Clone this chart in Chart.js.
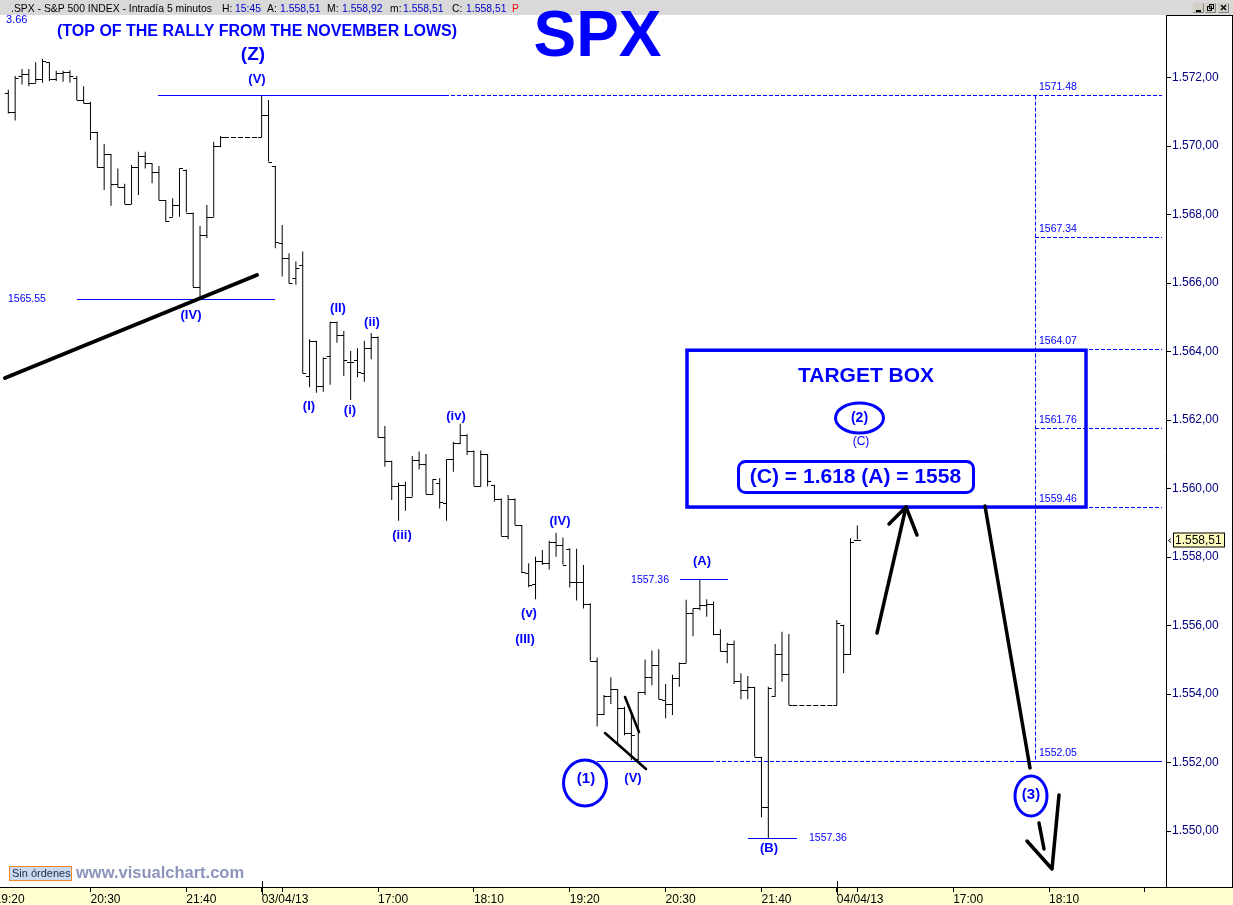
<!DOCTYPE html>
<html>
<head>
<meta charset="utf-8">
<title>SPX 5 minutos</title>
<script src="https://cdn.jsdelivr.net/npm/chart.js@4.4.1/dist/chart.umd.min.js"></script>
<style>
html,body{margin:0;padding:0;background:#fff;overflow:hidden;}
canvas{display:block;}
</style>
</head>
<body>
<canvas id="spx" width="1233" height="905"></canvas>
<script>
// Slot of each bar on the 5-minute time axis (missing slots = market closed)
const barSlot = [
  0,1,2,3,4,5,6,7,8,9,10,11,12,13,14,15,16,17,18,19,20,21,22,23,24,25,26,27,28,29,30,31,
  37,38,39,40,41,42,43,44,45,46,47,48,49,50,51,52,53,54,55,56,57,58,59,60,61,62,63,64,65,66,67,68,69,70,
  71,72,73,74,75,76,77,78,79,80,81,82,83,84,85,86,87,88,89,90,91,92,93,94,95,96,97,98,99,100,
  101,102,103,104,105,106,107,108,109,110,111,112,113,114,
  121,122,123,124
];
const openP = [
  1571.55,1571.00,1572.05,1572.10,1571.85,1571.95,1572.45,1571.95,1572.15,1572.18,1572.00,1571.35,1571.27,1570.42,1569.38,1569.77,
  1568.90,1568.80,1568.31,1569.40,1569.71,1569.50,1569.25,1568.43,1567.94,1568.28,1569.30,1568.06,1565.88,1567.41,1567.94,1570.01,
  1570.26,1570.91,1569.42,1567.16,1566.73,1566.14,1566.53,1563.29,1564.32,1563.01,1563.87,1564.86,1564.49,1563.71,1563.76,1563.37,
  1564.10,1564.44,1561.50,1560.81,1560.08,1560.11,1559.76,1560.84,1560.72,1559.84,1560.17,1559.57,1560.85,1561.32,1561.57,1561.11,
  1560.08,1561.01,1560.11,1559.71,1558.62,1559.71,1558.94,1557.54,1557.20,1557.89,1557.82,1558.45,1558.35,1558.24,1557.28,1557.28,
  1556.63,1554.97,1553.42,1553.95,1554.14,1553.58,1552.85,1552.10,1554.05,1554.51,1554.85,1553.83,1553.71,1554.46,1554.90,1556.36,
  1556.50,1556.60,1556.63,1555.75,1555.27,1555.47,1554.39,1554.12,1554.21,1552.17,1550.69,1553.95,1555.17,1554.59,
  1553.68,1556.02,1555.16,1558.51
];
const highP = [
  1571.65,1572.05,1572.25,1572.25,1572.45,1572.55,1572.45,1572.20,1572.20,1572.22,1572.05,1571.75,1571.30,1570.42,1570.06,1569.77,
  1569.35,1568.90,1569.45,1569.84,1569.84,1569.50,1569.42,1568.43,1568.48,1569.35,1569.32,1568.06,1567.67,1568.28,1570.13,1570.30,
  1571.48,1571.35,1569.42,1567.70,1566.87,1566.63,1566.92,1564.36,1564.32,1563.83,1564.87,1564.87,1564.60,1564.02,1564.10,1564.32,
  1564.54,1564.44,1561.83,1560.81,1560.17,1560.20,1560.95,1561.08,1561.01,1560.27,1560.30,1560.85,1561.37,1561.89,1561.59,1561.11,
  1561.11,1561.01,1560.11,1559.71,1559.81,1559.71,1558.94,1557.82,1558.01,1558.21,1558.48,1558.71,1558.57,1558.26,1558.24,1557.77,
  1556.65,1555.07,1553.97,1554.49,1554.14,1553.63,1553.48,1554.07,1555.01,1555.27,1555.31,1554.29,1554.56,1554.92,1556.75,1556.50,
  1557.36,1556.77,1556.70,1555.89,1555.50,1555.56,1554.61,1554.53,1554.21,1552.17,1554.21,1555.46,1555.82,1555.75,
  1556.16,1556.02,1558.55,1558.92
];
const lowP = [
  1570.95,1570.75,1571.80,1571.75,1571.85,1571.85,1571.90,1571.90,1571.88,1571.85,1571.35,1571.25,1570.18,1569.38,1568.72,1568.26,
  1568.80,1568.31,1568.31,1568.57,1569.35,1568.92,1568.43,1567.79,1567.94,1567.94,1568.06,1565.88,1565.53,1567.31,1567.94,1569.97,
  1570.26,1569.55,1567.02,1566.19,1565.99,1565.95,1563.37,1562.96,1562.80,1562.83,1563.03,1564.26,1563.29,1562.59,1563.25,1563.12,
  1563.78,1561.50,1560.64,1559.67,1559.06,1559.35,1559.76,1560.56,1559.84,1559.81,1559.42,1559.06,1560.49,1561.30,1560.98,1560.08,
  1560.06,1560.06,1559.62,1558.62,1558.52,1558.94,1557.53,1557.12,1556.77,1557.77,1557.64,1558.01,1557.78,1557.11,1556.73,1556.50,
  1554.97,1553.05,1553.39,1553.71,1552.56,1552.80,1552.07,1552.05,1553.97,1554.26,1553.85,1553.29,1553.39,1554.21,1554.90,1555.69,
  1556.45,1556.26,1555.72,1555.24,1554.90,1554.29,1553.85,1553.85,1552.17,1550.40,1549.79,1553.92,1554.36,1553.68,
  1553.68,1554.61,1555.14,1558.51
];
const closeP = [
  1571.00,1572.00,1572.10,1571.85,1571.95,1572.50,1571.95,1572.15,1572.18,1572.05,1571.35,1571.27,1570.42,1569.38,1569.77,1568.90,
  1568.80,1568.31,1569.40,1569.71,1569.50,1569.25,1568.43,1567.82,1568.28,1569.35,1568.06,1565.88,1567.41,1567.94,1570.01,1570.26,
  1570.91,1569.55,1567.21,1566.73,1565.99,1566.43,1563.37,1564.32,1563.01,1563.80,1564.86,1564.49,1563.76,1563.71,1563.39,1564.10,
  1564.44,1561.50,1560.81,1560.08,1560.11,1559.75,1560.84,1560.72,1559.84,1560.27,1559.62,1560.85,1561.32,1561.57,1561.11,1560.08,
  1561.01,1560.23,1559.71,1558.62,1559.71,1558.94,1557.55,1557.18,1557.89,1557.82,1558.45,1558.35,1557.78,1557.28,1557.28,1556.63,
  1554.97,1553.42,1553.95,1554.14,1553.58,1552.85,1552.80,1554.05,1554.51,1554.85,1553.85,1553.71,1554.46,1554.90,1556.36,1556.50,
  1556.60,1556.63,1555.75,1555.27,1555.47,1554.39,1554.12,1554.21,1552.17,1550.69,1554.19,1555.17,1554.59,1553.68,
  1556.08,1555.16,1558.45,1558.51
];

// Time axis ticks (slot positions) and their labels
const tickSlot  = [-2, 12, 26, 37, 40, 54, 68, 82, 96, 110, 121, 124, 138, 152, 166];
const tickLabel = ['19:20','20:30','21:40','03/04/13','','17:00','18:10','19:20','20:30','21:40','04/04/13','','17:00','18:10',''];
const sessionStart = [37, 121];

// Marked price levels
const fibLevels = [1571.48, 1567.34, 1564.07, 1561.76, 1559.46, 1552.05];
const waveIVLow = 1565.55;
const waveAHigh = 1557.36;
const targetTop = 1564.07;
const targetBottom = 1559.46;

const FONT = '"Liberation Sans", Arial, Helvetica, sans-serif';
const BLUE = '#0000ff';

const fmtES = v => {
  const parts = v.toFixed(2).split('.');
  return parts[0].replace(/\B(?=(\d{3})+(?!\d))/g, '.') + ',' + parts[1];
};

function text(ctx, s, x, y, font, color, align, base) {
  ctx.font = font;
  ctx.fillStyle = color;
  ctx.textAlign = align || 'center';
  ctx.textBaseline = base || 'middle';
  ctx.fillText(s, x, y);
}
function seg(ctx, pts, w, color, dash) {
  ctx.save();
  ctx.lineWidth = w;
  ctx.strokeStyle = color;
  ctx.lineCap = w > 1.5 ? 'round' : 'butt';
  ctx.lineJoin = 'round';
  ctx.setLineDash(dash || []);
  ctx.beginPath();
  ctx.moveTo(pts[0], pts[1]);
  for (let i = 2; i < pts.length; i += 2) ctx.lineTo(pts[i], pts[i + 1]);
  ctx.stroke();
  ctx.restore();
}
const crisp = v => Math.round(v) + 0.5;

const decor = {
  id: 'decor',
  beforeDraw(chart) {
    const ctx = chart.ctx;
    const W = chart.width, H = chart.height;
    const area = chart.chartArea;
    ctx.save();
    // window title bar
    ctx.fillStyle = '#d9d9d9';
    ctx.fillRect(0, 0, W, 15);
    const hf = '10.4px ' + FONT;
    const head = [
      ['.SPX - S&P 500 INDEX - Intradía 5 minutos', '#000', 11],
      ['H:', '#000', 222], ['15:45', '#0000c8', 235],
      ['A:', '#000', 267], [fmtES(openP[openP.length - 1]), '#0000c8', 280],
      ['M:', '#000', 327], [fmtES(highP[highP.length - 1]), '#0000c8', 342],
      ['m:', '#000', 390], [fmtES(lowP[lowP.length - 1]), '#0000c8', 403],
      ['C:', '#000', 452], [fmtES(closeP[closeP.length - 1]), '#0000c8', 466],
      ['P', '#ff0000', 512]
    ];
    head.forEach(h => text(ctx, h[0], h[2], 12, hf, h[1], 'left', 'alphabetic'));
    // window buttons
    [1193, 1205, 1218].forEach((bx, i) => {
      ctx.fillStyle = '#d4d0c8';
      ctx.fillRect(bx, 3, 11, 10);
      ctx.strokeStyle = '#808080';
      ctx.lineWidth = 1;
      ctx.beginPath();
      ctx.moveTo(bx + 0.5, 12.5); ctx.lineTo(bx + 10.5, 12.5); ctx.lineTo(bx + 10.5, 3.5);
      ctx.stroke();
      ctx.fillStyle = '#000';
      if (i === 0) ctx.fillRect(bx + 3, 10, 5, 2);
      if (i === 1) { ctx.strokeStyle = '#000'; ctx.strokeRect(bx + 4.5, 4.5, 4, 4); ctx.strokeRect(bx + 2.5, 6.5, 4, 4); }
      if (i === 2) seg(ctx, [bx + 3, 5, bx + 8, 10], 1.4, '#000');
      if (i === 2) seg(ctx, [bx + 8, 5, bx + 3, 10], 1.4, '#000');
    });
    // time axis band
    ctx.fillStyle = '#ffffd2';
    ctx.fillRect(0, area.bottom, W, H - area.bottom);
    ctx.restore();
  },
  afterDatasetsDraw(chart) {
    const ctx = chart.ctx;
    const xs = chart.scales.x, ys = chart.scales.y;
    ctx.save();
    ctx.strokeStyle = '#000';
    ctx.lineWidth = 1;
    ctx.beginPath();
    barSlot.forEach((s, i) => {
      const x = xs.getPixelForValue(s);
      const yo = crisp(ys.getPixelForValue(openP[i]));
      const yc = crisp(ys.getPixelForValue(closeP[i]));
      ctx.moveTo(x - 3.5, yo); ctx.lineTo(x, yo);
      ctx.moveTo(x, yc); ctx.lineTo(x + 3.5, yc);
    });
    ctx.stroke();
    // dashed link across closed-market slots
    for (let i = 0; i < barSlot.length - 1; i++) {
      if (barSlot[i + 1] - barSlot[i] > 1) {
        const y = crisp(ys.getPixelForValue(closeP[i]));
        seg(ctx, [xs.getPixelForValue(barSlot[i]) + 3.5, y, xs.getPixelForValue(barSlot[i + 1]), y], 1, '#000', [5, 2]);
      }
    }
    ctx.restore();
  },
  afterDraw(chart) {
    const ctx = chart.ctx;
    const xs = chart.scales.x, ys = chart.scales.y;
    const area = chart.chartArea;
    const Y = v => crisp(ys.getPixelForValue(v));
    const X = v => xs.getPixelForValue(v);
    ctx.save();

    // frame pieces around the price axis and the time axis
    seg(ctx, [0, area.bottom + 0.5, chart.width, area.bottom + 0.5], 1, '#000');
    seg(ctx, [area.right, area.top + 0.5, chart.width, area.top + 0.5], 1, '#000');
    seg(ctx, [chart.width - 0.5, area.top, chart.width - 0.5, area.bottom], 1, '#000');
    sessionStart.forEach(s => {
      const x = crisp(X(s));
      seg(ctx, [x, area.bottom - 6, x, area.bottom + 8], 1, '#000');
    });

    const nf = '10.5px ' + FONT;
    // level lines on the right with their values
    const yTop = Y(fibLevels[0]);
    seg(ctx, [158, yTop, 445, yTop], 1, BLUE);
    seg(ctx, [445, yTop, 1162, yTop], 1, BLUE, [4, 2]);
    [1, 2, 3, 4].forEach(i => {
      const y = Y(fibLevels[i]);
      seg(ctx, [1035, y, 1162, y], 1, BLUE, [4, 2]);
    });
    const y1 = Y(fibLevels[5]);
    seg(ctx, [597, y1, 710, y1], 1, BLUE);
    seg(ctx, [710, y1, 1020, y1], 1, BLUE, [4, 2]);
    seg(ctx, [1020, y1, 1162, y1], 1, BLUE);
    seg(ctx, [1035.5, yTop, 1035.5, y1], 1, BLUE, [4, 2]);
    fibLevels.forEach(v => text(ctx, v.toFixed(2), 1039, Y(v) - 8, nf, BLUE, 'left'));

    // wave (IV) low and wave (A)/(B) marks
    const yIV = Y(waveIVLow);
    seg(ctx, [77, yIV, 275, yIV], 1, BLUE);
    text(ctx, waveIVLow.toFixed(2), 8, yIV, nf, BLUE, 'left');
    const yA = Y(waveAHigh);
    seg(ctx, [680, yA, 728, yA], 1, BLUE);
    text(ctx, waveAHigh.toFixed(2), 669, yA + 1, nf, BLUE, 'right');
    const yB = Y(Math.min(...lowP));
    seg(ctx, [748, yB, 797, yB], 1, BLUE);
    text(ctx, '1557.36', 809, yB, nf, BLUE, 'left');
    text(ctx, '3.66', 6, 20, '11px ' + FONT, BLUE, 'left');

    // target box
    const bt = ys.getPixelForValue(targetTop), bb = ys.getPixelForValue(targetBottom);
    ctx.lineWidth = 3.5;
    ctx.strokeStyle = BLUE;
    ctx.setLineDash([]);
    ctx.strokeRect(687, bt + 1, 1086 - 687, bb - bt - 1);
    text(ctx, 'TARGET BOX', 866, 376, 'bold 21px ' + FONT, BLUE);
    ctx.lineWidth = 3;
    ctx.beginPath(); ctx.ellipse(859.5, 418, 24, 15, 0, 0, Math.PI * 2); ctx.stroke();
    text(ctx, '(2)', 859.5, 418, 'bold 14px ' + FONT, BLUE);
    text(ctx, '(C)', 861, 442, '12px ' + FONT, BLUE);
    ctx.beginPath(); ctx.roundRect(738.5, 461.5, 235, 31, 7); ctx.stroke();
    text(ctx, '(C) = 1.618 (A) = 1558', 855.5, 477, 'bold 21px ' + FONT, BLUE);

    // titles
    text(ctx, '(TOP OF THE RALLY FROM THE NOVEMBER LOWS)', 257, 32, 'bold 16px ' + FONT, BLUE);
    text(ctx, 'SPX', 597.5, 56, 'bold 64px ' + FONT, BLUE, 'center', 'alphabetic');
    text(ctx, '(Z)', 253, 55, 'bold 19px ' + FONT, BLUE);

    // wave counts
    const wf = 'bold 13px ' + FONT;
    [['(V)', 257, 79], ['(IV)', 191, 315], ['(II)', 338, 308], ['(ii)', 372, 322], ['(I)', 309, 406],
     ['(i)', 350, 410], ['(iii)', 402, 535], ['(iv)', 456, 416], ['(IV)', 560, 521], ['(v)', 529, 613],
     ['(III)', 525, 639], ['(A)', 702, 561], ['(V)', 633, 778], ['(B)', 769, 848]]
      .forEach(w => text(ctx, w[0], w[1], w[2], wf, BLUE));

    ctx.lineWidth = 3;
    ctx.strokeStyle = BLUE;
    ctx.beginPath(); ctx.ellipse(585, 783, 21.5, 23, 0, 0, Math.PI * 2); ctx.stroke();
    text(ctx, '(1)', 586, 779, 'bold 15px ' + FONT, BLUE);
    ctx.beginPath(); ctx.ellipse(1031, 796, 16, 20, 0, 0, Math.PI * 2); ctx.stroke();
    text(ctx, '(3)', 1031, 795, 'bold 15px ' + FONT, BLUE);

    // hand-drawn trend lines and arrows
    seg(ctx, [5, 378, 257, 275], 4, '#000');
    seg(ctx, [605, 733, 646, 769], 2.5, '#000');
    seg(ctx, [625, 697, 639, 732], 2.5, '#000');
    seg(ctx, [877, 633, 906, 507], 3.5, '#000');
    seg(ctx, [889, 524, 906, 507, 917, 535], 3.5, '#000');
    seg(ctx, [985, 506, 1030, 768], 3.5, '#000');
    seg(ctx, [1027, 841, 1052, 869, 1059, 795], 3.5, '#000');
    seg(ctx, [1039, 823, 1044, 849], 3.5, '#000');

    // last price tag on the price axis
    const yl = Y(closeP[closeP.length - 1]);
    ctx.fillStyle = '#ffffc0';
    ctx.fillRect(1173, yl - 8, 51, 15);
    ctx.lineWidth = 1;
    ctx.strokeStyle = '#000';
    ctx.strokeRect(1173.5, yl - 7.5, 51, 14);
    text(ctx, fmtES(closeP[closeP.length - 1]), 1175, yl, '12px ' + FONT, '#000', 'left');
    seg(ctx, [1171, yl - 2, 1168.5, yl, 1171, yl + 2], 1, '#000');

    // order status and site tag
    ctx.fillStyle = '#c9d9f0';
    ctx.fillRect(9, 866, 63, 15);
    ctx.strokeStyle = '#f0882a';
    ctx.strokeRect(9.5, 866.5, 62, 14);
    text(ctx, 'Sin órdenes', 12, 874, '11px ' + FONT, '#1c2c44', 'left');
    text(ctx, 'www.visualchart.com', 76, 873, 'bold 16.5px ' + FONT, '#8c94bc', 'left');
    ctx.restore();
  }
};

new Chart(document.getElementById('spx'), {
  type: 'bar',
  data: {
    datasets: [{
      data: barSlot.map((s, i) => ({ x: s, y: [lowP[i], highP[i]] })),
      backgroundColor: '#000',
      borderWidth: 0,
      barThickness: 1,
      inflateAmount: 0,
      grouped: false
    }]
  },
  options: {
    responsive: false,
    animation: false,
    devicePixelRatio: 1,
    layout: { padding: { top: 15, left: 0, right: 0, bottom: 0 } },
    plugins: { legend: { display: false }, tooltip: { enabled: false }, title: { display: false } },
    scales: {
      x: {
        type: 'linear',
        min: -1.212,
        max: 169.08,
        offset: false,
        afterBuildTicks: s => { s.ticks = tickSlot.map(v => ({ value: v })); },
        afterFit: s => { s.height = 18; s.paddingLeft = 0; s.paddingRight = 0; },
        grid: { display: true, drawOnChartArea: false, drawTicks: true, tickLength: 5, color: '#000', offset: false },
        border: { display: true, color: '#000' },
        ticks: {
          autoSkip: false, maxRotation: 0, minRotation: 0, align: 'start', padding: 0,
          color: '#000', font: { family: FONT, size: 12 },
          callback: (v, i) => tickLabel[i]
        }
      },
      y: {
        position: 'right',
        min: 1548.365,
        max: 1573.83,
        afterFit: s => { s.width = 67; s.paddingTop = 0; s.paddingBottom = 0; },
        grid: { display: true, drawOnChartArea: false, drawTicks: true, tickLength: 5, color: '#000' },
        border: { display: true, color: '#000' },
        ticks: {
          stepSize: 2, includeBounds: false, padding: 1,
          color: '#000080', font: { family: FONT, size: 12 },
          callback: v => fmtES(v)
        }
      }
    }
  },
  plugins: [decor]
});
</script>
</body>
</html>
